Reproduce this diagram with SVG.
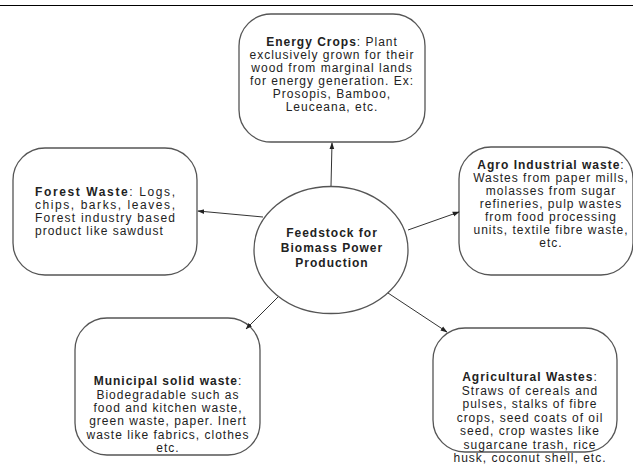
<svg xmlns="http://www.w3.org/2000/svg" width="633" height="468" viewBox="0 0 633 468">
<style>
.box{fill:#fff;stroke:#555;stroke-width:1.3}
.t{font-family:"Liberation Sans",Arial,sans-serif;font-size:12px;fill:#222;letter-spacing:1px}
.c{text-anchor:middle}
.b{font-weight:bold}
.conn{stroke:#333;stroke-width:1;fill:none;marker-end:url(#ah)}
</style>
<defs>
<marker id="ah" viewBox="0 0 10 10" refX="9" refY="5" markerWidth="7" markerHeight="7" orient="auto" markerUnits="userSpaceOnUse">
<path d="M0,1.5 L10,5 L0,8.5 z" fill="#222"/>
</marker>
</defs>
<rect width="633" height="468" fill="#fff"/>
<line x1="0" y1="5.5" x2="633" y2="5.5" stroke="#000" stroke-width="1"/>
<g id="center">
<ellipse class="box" cx="331" cy="250" rx="77" ry="63.5"/>
<text class="t b c" x="332" y="237">Feedstock for</text>
<text class="t b c" x="332" y="252">Biomass Power</text>
<text class="t b c" x="332" y="267">Production</text>
</g>
<g id="energy">
<rect class="box" x="239" y="14" width="186" height="128" rx="32" ry="32"/>
<text class="t c" x="332" y="46"><tspan class="b">Energy Crops</tspan>: Plant</text>
<text class="t c" x="332" y="59">exclusively grown for their</text>
<text class="t c" x="332" y="72">wood from marginal lands</text>
<text class="t c" x="332" y="85">for energy generation. Ex:</text>
<text class="t c" x="332" y="98">Prosopis, Bamboo,</text>
<text class="t c" x="332" y="111">Leuceana, etc.</text>
</g>
<g id="forest">
<rect class="box" x="13" y="148" width="184" height="127" rx="32" ry="32"/>
<text class="t" x="35" y="196" textLength="141" lengthAdjust="spacing"><tspan class="b">Forest Waste</tspan>: Logs,</text>
<text class="t" x="35" y="209" textLength="141" lengthAdjust="spacing">chips, barks, leaves,</text>
<text class="t" x="35" y="222" textLength="141" lengthAdjust="spacing">Forest industry based</text>
<text class="t" x="35" y="235">product like sawdust</text>
</g>
<g id="agro">
<rect class="box" x="459" y="147" width="174" height="128" rx="32" ry="32"/>
<text class="t c" x="551" y="169"><tspan class="b">Agro Industrial waste</tspan>:</text>
<text class="t c" x="551" y="182">Wastes from paper mills,</text>
<text class="t c" x="551" y="195">molasses from sugar</text>
<text class="t c" x="551" y="208">refineries, pulp wastes</text>
<text class="t c" x="551" y="221">from food processing</text>
<text class="t c" x="551" y="234">units, textile fibre waste,</text>
<text class="t c" x="551" y="247">etc.</text>
</g>
<g id="municipal">
<rect class="box" x="75" y="318" width="185" height="137" rx="32" ry="32"/>
<text class="t c" x="168" y="385"><tspan class="b">Municipal solid waste</tspan>:</text>
<text class="t c" x="168" y="399">Biodegradable such as</text>
<text class="t c" x="168" y="412">food and kitchen waste,</text>
<text class="t c" x="168" y="425">green waste, paper. Inert</text>
<text class="t c" x="168" y="439">waste like fabrics, clothes</text>
<text class="t c" x="168" y="452">etc.</text>
</g>
<g id="agricultural">
<rect class="box" x="433" y="328" width="184" height="124" rx="32" ry="32"/>
<text class="t c" x="530" y="381"><tspan class="b">Agricultural Wastes</tspan>:</text>
<text class="t c" x="530" y="395">Straws of cereals and</text>
<text class="t c" x="530" y="408">pulses, stalks of fibre</text>
<text class="t c" x="530" y="422">crops, seed coats of oil</text>
<text class="t c" x="530" y="435">seed, crop wastes like</text>
<text class="t c" x="530" y="449">sugarcane trash, rice</text>
<text class="t c" x="530" y="462">husk, coconut shell, etc.</text>
</g>
<g id="connectors">
<line class="conn" x1="331" y1="186" x2="332" y2="143"/>
<line class="conn" x1="263" y1="217" x2="198" y2="211"/>
<line class="conn" x1="408" y1="230" x2="459" y2="212"/>
<line class="conn" x1="278" y1="297" x2="246" y2="329"/>
<line class="conn" x1="388" y1="293" x2="447" y2="332"/>
</g>
</svg>
